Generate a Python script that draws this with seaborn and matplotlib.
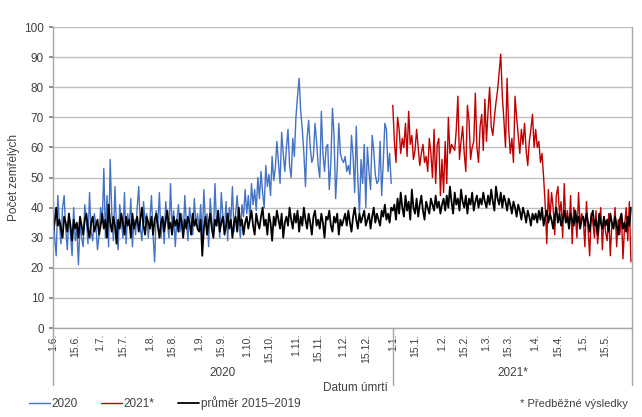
import pandas as pd
import numpy as np
import matplotlib
matplotlib.use("Agg")
import matplotlib.pyplot as plt
import seaborn as sns

sns.set_theme(style="white")
plt.rcParams['font.family'] = ['Liberation Sans', 'DejaVu Sans']

# denní počty zemřelých, 1.6.2020 - 31.12.2020 (odhad z grafu)
rok_2020 = [
    # červen
    45, 30, 24, 44, 35, 28, 40, 44, 33, 26, 38, 31, 24, 40, 29, 33, 21, 35, 30, 27, 41, 36, 28, 45, 32, 29, 38, 34, 26, 31,
    # červenec
    40, 35, 53, 30, 44, 27, 56, 38, 29, 47, 33, 26, 41, 36, 30, 45, 28, 38, 34, 43, 27, 36, 31, 40, 47, 33, 29, 42, 35, 38, 30,
    # srpen
    36, 44, 31, 22, 39, 34, 45, 30, 37, 28, 42, 35, 30, 48, 33, 39, 27, 36, 41, 32, 38, 30, 44, 35, 29, 40, 36, 31, 43, 34, 38,
    # září
    33, 41, 29, 46, 35, 38, 27, 43, 36, 31, 48, 34, 39, 30, 45, 37, 33, 42, 29, 40, 36, 47, 32, 38, 44, 35, 30, 41, 37, 46,
    # říjen
    38, 44, 36, 48, 41, 46, 39, 50, 43, 52, 45, 40, 54, 47, 51, 44, 57, 49, 53, 62, 55, 48, 65, 58, 52, 60, 66, 54, 50, 63, 57,
    # listopad
    70, 77, 83, 72, 66, 58, 47, 63, 69, 60, 55, 57, 68, 62, 54, 50, 72, 58, 52, 60, 61, 46, 55, 73, 64, 43, 53, 68, 58, 56,
    # prosinec
    55, 57, 52, 54, 51, 64, 57, 45, 67, 49, 38, 56, 48, 61, 40, 60, 52, 46, 64, 59, 51, 48, 49, 62, 44, 55, 68, 66, 52, 58, 48,
]

# 1.1.2021 - 31.5.2021 (předběžné)
rok_2021 = [
    # leden
    74, 62, 55, 70, 66, 58, 63, 60, 68, 57, 72, 61, 64, 56, 59, 66, 60, 54, 58, 61, 55, 57, 52, 63, 58, 50, 66, 48, 61, 63, 44,
    # únor
    56, 45, 62, 48, 70, 58, 61, 60, 59, 66, 77, 56, 62, 67, 58, 52, 74, 69, 56, 60, 62, 78, 60, 55, 67, 71, 59, 76,
    # březen
    62, 72, 80, 67, 64, 70, 75, 79, 85, 91, 77, 69, 60, 83, 66, 58, 63, 55, 77, 70, 64, 58, 66, 61, 68, 59, 54, 62, 66, 71, 60,
    # duben
    66, 60, 62, 55, 58, 50, 41, 28, 46, 36, 45, 40, 31, 44, 47, 38, 42, 30, 48, 35, 39, 33, 44, 28, 40, 37, 30, 45, 34, 38,
    # květen
    36, 27, 42, 33, 24, 38, 35, 30, 39, 28, 34, 40, 26, 37, 32, 29, 38, 24, 35, 33, 40, 27, 36, 31, 38, 23, 34, 40, 29, 42, 22,
]

# průměr 2015-2019, 1.6. - 31.5.
prumer = [
    31, 35, 40, 34, 36, 33, 30, 37, 35, 32, 38, 34, 29, 36, 33, 35, 30, 37, 34, 31, 36, 38, 33, 30, 35, 37, 32, 34, 36, 31,
    34, 38, 33, 36, 30, 41, 35, 32, 37, 34, 28, 36, 33, 38, 35, 31, 37, 34, 36, 30, 38, 33, 35, 37, 32, 36, 40, 34, 31, 37, 35,
    33, 37, 31, 36, 38, 34, 30, 35, 37, 32, 36, 39, 33, 35, 31, 37, 34, 36, 32, 38, 35, 30, 36, 33, 37, 35, 31, 38, 34, 36, 33,
    32, 36, 24, 33, 37, 31, 35, 38, 33, 30, 36, 34, 39, 32, 35, 37, 31, 34, 38, 33, 36, 30, 35, 37, 32, 40, 34, 36, 31, 35,
    37, 33, 36, 39, 34, 31, 38, 35, 33, 37, 40, 34, 36, 31, 38, 35, 29, 37, 34, 39, 36, 33, 38, 30, 35, 37, 34, 40, 36, 33, 38,
    35, 39, 32, 37, 34, 40, 36, 33, 38, 35, 31, 37, 39, 34, 36, 33, 38, 35, 30, 37, 36, 39, 34, 32, 37, 35, 38, 31, 36, 34,
    36, 38, 34, 39, 35, 32, 37, 40, 36, 33, 38, 35, 37, 39, 34, 36, 38, 33, 37, 40, 35, 38, 36, 34, 39, 37, 41, 36, 38, 35, 40,
    39, 41, 36, 43, 38, 45, 40, 37, 44, 39, 42, 36, 46, 40, 38, 43, 37, 41, 44, 39, 36, 42, 40, 38, 43, 41, 39, 44, 40, 42, 38,
    41, 43, 39, 44, 40, 47, 42, 38, 45, 41, 43, 39, 46, 42, 40, 44, 38, 43, 41, 45, 39, 42, 44, 40, 43, 41, 45, 42,
    40, 44, 41, 46, 42, 39, 47, 43, 41, 45, 40, 44, 42, 39, 43, 41, 38, 42, 40, 37, 41, 39, 36, 40, 38, 35, 39, 37, 34, 38, 36,
    38, 35, 39, 36, 40, 34, 37, 39, 35, 38, 36, 33, 37, 40, 35, 38, 34, 36, 39, 35, 37, 33, 38, 36, 34, 39, 35, 37, 33, 36,
    37, 34, 38, 35, 32, 37, 39, 34, 36, 31, 38, 35, 33, 37, 34, 36, 32, 38, 35, 33, 37, 34, 31, 36, 38, 33, 35, 32, 37, 34, 40,
]

datum_2020 = pd.date_range('2020-06-01', '2020-12-31')
datum_2021 = pd.date_range('2021-01-01', '2021-05-31')
datum_vse = pd.date_range('2020-06-01', '2021-05-31')
start = datum_vse[0]

df20 = pd.DataFrame({'den': (datum_2020 - start).days, 'pocet': rok_2020})
df21 = pd.DataFrame({'den': (datum_2021 - start).days, 'pocet': rok_2021})
dfp = pd.DataFrame({'den': (datum_vse - start).days, 'pocet': prumer})

fig = plt.figure(figsize=(6.42, 4.17), dpi=100)
ax = fig.add_axes([0.0826, 0.2134, 0.9014, 0.7218])

sns.lineplot(data=df20, x='den', y='pocet', color='#4472C4', lw=1.0, ax=ax, label='2020')
sns.lineplot(data=df21, x='den', y='pocet', color='#C00000', lw=1.0, ax=ax, label='2021*')
sns.lineplot(data=dfp, x='den', y='pocet', color='black', lw=1.3, ax=ax, label='průměr 2015–2019')

ax.set_xlim(0, len(datum_vse) - 1 + 0.5)
ax.set_ylim(0, 100)
ax.set_yticks(range(0, 101, 10))
ax.yaxis.grid(True, color='#BFBFBF', lw=1.0)
ax.tick_params(axis='y', labelsize=8.5, colors='#404040', length=3, direction='out', left=True, color='#808080')

# popisky osy x: 1. a 15. den každého měsíce
tick_dates = [d for d in datum_vse if d.day in (1, 15)]
ax.set_xticks([(d - start).days for d in tick_dates])
ax.set_xticklabels([f"{d.day}.{d.month}." for d in tick_dates], rotation=90, fontsize=7.5, color='#404040')
ax.tick_params(axis='x', length=0, pad=4)

for s in ['top']:
    ax.spines[s].set_visible(False)
for s in ['left', 'right', 'bottom']:
    ax.spines[s].set_color('#A6A6A6')
    ax.spines[s].set_linewidth(1.0)

# oddělovače let pod osou
for x in [0, (datum_2021[0] - start).days, len(datum_vse) - 1 + 0.5]:
    ax.plot([x, x], [0, -0.19], transform=ax.get_xaxis_transform(), color='#A6A6A6', lw=1.0, clip_on=False)

ax.text((datum_2021[0] - start).days / 2, -0.15, '2020', transform=ax.get_xaxis_transform(),
        ha='center', va='center', fontsize=8.5, color='#404040')
ax.text((datum_2021[0] - start).days + len(datum_2021) / 2, -0.15, '2021*', transform=ax.get_xaxis_transform(),
        ha='center', va='center', fontsize=8.5, color='#404040')

ax.set_xlabel('')
ax.set_ylabel('Počet zemřelých', fontsize=8.5, color='#404040', labelpad=3)
fig.text(355 / 642, 1 - 388 / 417, 'Datum úmrtí', ha='center', va='center', fontsize=8.5, color='#404040')

ax.legend(loc='center left', bbox_to_anchor=(-0.06, -0.25), ncol=3, frameon=False, fontsize=8.5,
          handlelength=1.8, handletextpad=0.1, columnspacing=2.0, labelcolor='#404040')
fig.text(628 / 642, 1 - 404 / 417, '* Předběžné výsledky', ha='right', va='center', fontsize=8, color='#404040')

plt.savefig('out.png', dpi=100)
plt.close()
